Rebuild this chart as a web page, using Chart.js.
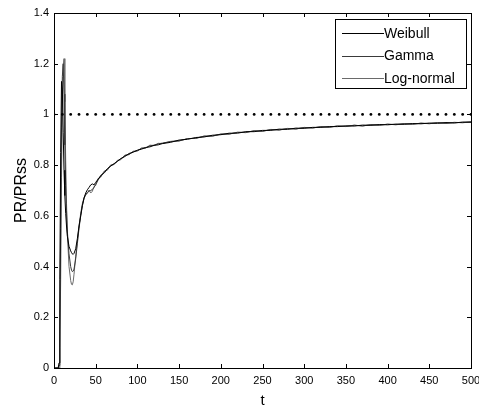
<!DOCTYPE html>
<html>
<head>
<meta charset="utf-8">
<script src="https://cdn.jsdelivr.net/npm/chart.js@4.4.0/dist/chart.umd.min.js"></script>
<style>
  html, body { margin: 0; padding: 0; background: #fff; }
  #wrap { width: 479px; height: 410px; }
</style>
</head>
<body>
<div id="wrap"><canvas id="myChart" width="479" height="410"></canvas></div>
<script>
// time axis (shared by the three curves)
const tValues = [0,2,4,5,6,7,8,9,10,11,12,13,14,15,16,18,20,21,22,23,24,26,28,30,32,34,36,38,40,42,44,46,48,50,53,56,60,64,68,72,76,80,85,90,95,100,105,110,115,120,125,130,140,150,160,170,180,190,200,210,220,230,240,250,260,270,280,290,300,310,320,330,340,350,360,370,380,390,400,410,420,430,440,450,460,470,480,490,500];

const weibull = [0,0,0,0,0.02,0.35,0.85,1.13,1.10,0.93,
  0.78,0.68,0.61,0.56,0.52,0.48,0.462,0.455,0.45,0.448,
  0.452,0.47,0.51,0.56,0.60,0.64,0.67,0.69,0.703,0.712,
  0.722,0.726,0.722,0.732,0.745,0.757,0.771,0.786,0.796,0.806,
  0.814,0.826,0.834,0.846,0.851,0.859,0.863,0.870,0.872,0.878,
  0.880,0.885,0.890,0.899,0.902,0.909,0.911,0.918,0.920,0.926,
  0.926,0.932,0.932,0.937,0.937,0.942,0.941,0.946,0.945,0.949,
  0.949,0.952,0.952,0.955,0.954,0.958,0.957,0.960,0.959,0.962,
  0.961,0.964,0.963,0.966,0.965,0.968,0.966,0.970,0.970];

const gamma = [0,0,0,0,0.01,0.15,0.55,0.95,1.15,1.20,
  1.08,0.88,0.72,0.62,0.54,0.45,0.40,0.386,0.38,0.382,
  0.39,0.43,0.49,0.55,0.60,0.64,0.668,0.684,0.692,0.698,
  0.70,0.704,0.712,0.724,0.742,0.760,0.768,0.784,0.798,0.804,
  0.817,0.824,0.837,0.843,0.853,0.857,0.866,0.868,0.876,0.879,
  0.884,0.887,0.893,0.896,0.904,0.906,0.914,0.915,0.922,0.923,
  0.929,0.930,0.935,0.934,0.940,0.939,0.944,0.943,0.948,0.947,
  0.951,0.950,0.954,0.953,0.957,0.955,0.959,0.958,0.961,0.960,
  0.963,0.962,0.965,0.964,0.967,0.965,0.968,0.968,0.969];

const logNormal = [0,0,0,0,0,0.08,0.35,0.75,1.05,1.19,
  1.22,1.05,0.82,0.65,0.53,0.40,0.345,0.33,0.328,0.34,
  0.37,0.44,0.50,0.56,0.61,0.648,0.672,0.683,0.688,0.702,
  0.69,0.697,0.716,0.72,0.748,0.752,0.776,0.780,0.801,0.802,
  0.819,0.821,0.840,0.841,0.855,0.856,0.868,0.867,0.879,0.877,
  0.886,0.885,0.894,0.895,0.905,0.905,0.915,0.914,0.923,0.922,
  0.930,0.928,0.936,0.933,0.941,0.938,0.945,0.942,0.949,0.946,
  0.952,0.949,0.955,0.952,0.958,0.954,0.960,0.957,0.962,0.959,
  0.964,0.961,0.966,0.963,0.968,0.965,0.969,0.967,0.971];

const seriesNames = ['Weibull', 'Gamma', 'Log-normal'];
const seriesColors = ['#000000', '#3a3a3a', '#6a6a6a'];

// steady state reference (dotted line)
const refLevel = 1;
const dotT = [0,10,20,30,40,50,60,70,80,90,100,110,120,130,140,150,160,170,180,190,200,210,220,230,240,250,260,270,280,290,300,310,320,330,340,350,360,370,380,390,400,410,420,430,440,450,460,470,480,490,500];

function toPoints(xs, ys) {
  return xs.map((t, i) => ({ x: t, y: ys[i] }));
}

// MATLAB style box with inward ticks on all four sides
const frameTicks = {
  id: 'frameTicks',
  afterDatasetsDraw(chart) {
    const { ctx, chartArea: a, scales } = chart;
    const tl = 4;
    ctx.save();
    ctx.strokeStyle = '#000';
    ctx.lineWidth = 1;
    ctx.strokeRect(a.left + 0.5, a.top + 0.5, a.right - a.left, a.bottom - a.top);
    ctx.beginPath();
    scales.x.ticks.forEach(tk => {
      const px = Math.round(scales.x.getPixelForValue(tk.value)) + 0.5;
      ctx.moveTo(px, a.bottom); ctx.lineTo(px, a.bottom - tl);
      ctx.moveTo(px, a.top); ctx.lineTo(px, a.top + tl);
    });
    scales.y.ticks.forEach(tk => {
      const py = Math.round(scales.y.getPixelForValue(tk.value)) + 0.5;
      ctx.moveTo(a.left, py); ctx.lineTo(a.left + tl, py);
      ctx.moveTo(a.right, py); ctx.lineTo(a.right - tl, py);
    });
    ctx.stroke();
    ctx.restore();
  }
};

const boxLegend = {
  id: 'boxLegend',
  afterDraw(chart) {
    const ctx = chart.ctx;
    const bx = 335, by = 19, bw = 131, bh = 69;
    ctx.save();
    ctx.fillStyle = '#fff';
    ctx.fillRect(bx, by, bw, bh);
    ctx.strokeStyle = '#000';
    ctx.lineWidth = 1;
    ctx.strokeRect(bx + 0.5, by + 0.5, bw, bh);
    ctx.font = '14px "Liberation Sans", Arial, sans-serif';
    ctx.textBaseline = 'middle';
    seriesNames.forEach((name, i) => {
      const ry = by + 14 + i * 22.5;
      ctx.strokeStyle = seriesColors[i];
      ctx.beginPath();
      ctx.moveTo(342, Math.round(ry) + 0.5);
      ctx.lineTo(384, Math.round(ry) + 0.5);
      ctx.stroke();
      ctx.fillStyle = '#000';
      ctx.fillText(name, 384, ry + 1);
    });
    ctx.restore();
  }
};

const datasets = [
  {
    label: 'ref',
    data: toPoints(dotT, dotT.map(() => refLevel)),
    showLine: false,
    pointRadius: 1.4,
    pointBackgroundColor: '#000',
    pointBorderWidth: 0
  }
];
[weibull, gamma, logNormal].forEach((vals, i) => {
  datasets.push({
    label: seriesNames[i],
    data: toPoints(tValues, vals),
    showLine: true,
    borderColor: seriesColors[i],
    borderWidth: 1,
    pointRadius: 0,
    tension: 0,
    fill: false
  });
});

const ctx = document.getElementById('myChart').getContext('2d');
new Chart(ctx, {
  type: 'scatter',
  data: { datasets: datasets },
  options: {
    responsive: false,
    animation: false,
    devicePixelRatio: 1,
    layout: { padding: { top: 13, right: 8, left: 0, bottom: 0 } },
    plugins: {
      legend: { display: false },
      tooltip: { enabled: false }
    },
    scales: {
      x: {
        type: 'linear',
        min: 0, max: 500,
        grid: { display: false, drawTicks: false },
        border: { display: false },
        ticks: { stepSize: 50, padding: 6, color: '#000', font: { family: '"Liberation Sans", Arial', size: 11 }, maxRotation: 0 },
        title: { display: true, text: 't', color: '#000', font: { family: '"Liberation Sans", Arial', size: 15 }, padding: { top: 0, bottom: 0 } },
        afterFit(scale) { scale.height = 42; scale.paddingLeft = 0; scale.paddingRight = 0; }
      },
      y: {
        type: 'linear',
        min: 0, max: 1.4,
        grid: { display: false, drawTicks: false },
        border: { display: false },
        ticks: {
          stepSize: 0.2, padding: 5, color: '#000',
          font: { family: '"Liberation Sans", Arial', size: 11 },
          callback: v => String(Math.round(v * 10) / 10)
        },
        title: { display: true, text: 'PR/PRss', color: '#000', font: { family: '"Liberation Sans", Arial', size: 16 }, padding: { top: 12, bottom: 0 } },
        afterFit(scale) { scale.width = 54; scale.paddingTop = 0; scale.paddingBottom = 0; }
      }
    }
  },
  plugins: [frameTicks, boxLegend]
});
</script>
</body>
</html>
